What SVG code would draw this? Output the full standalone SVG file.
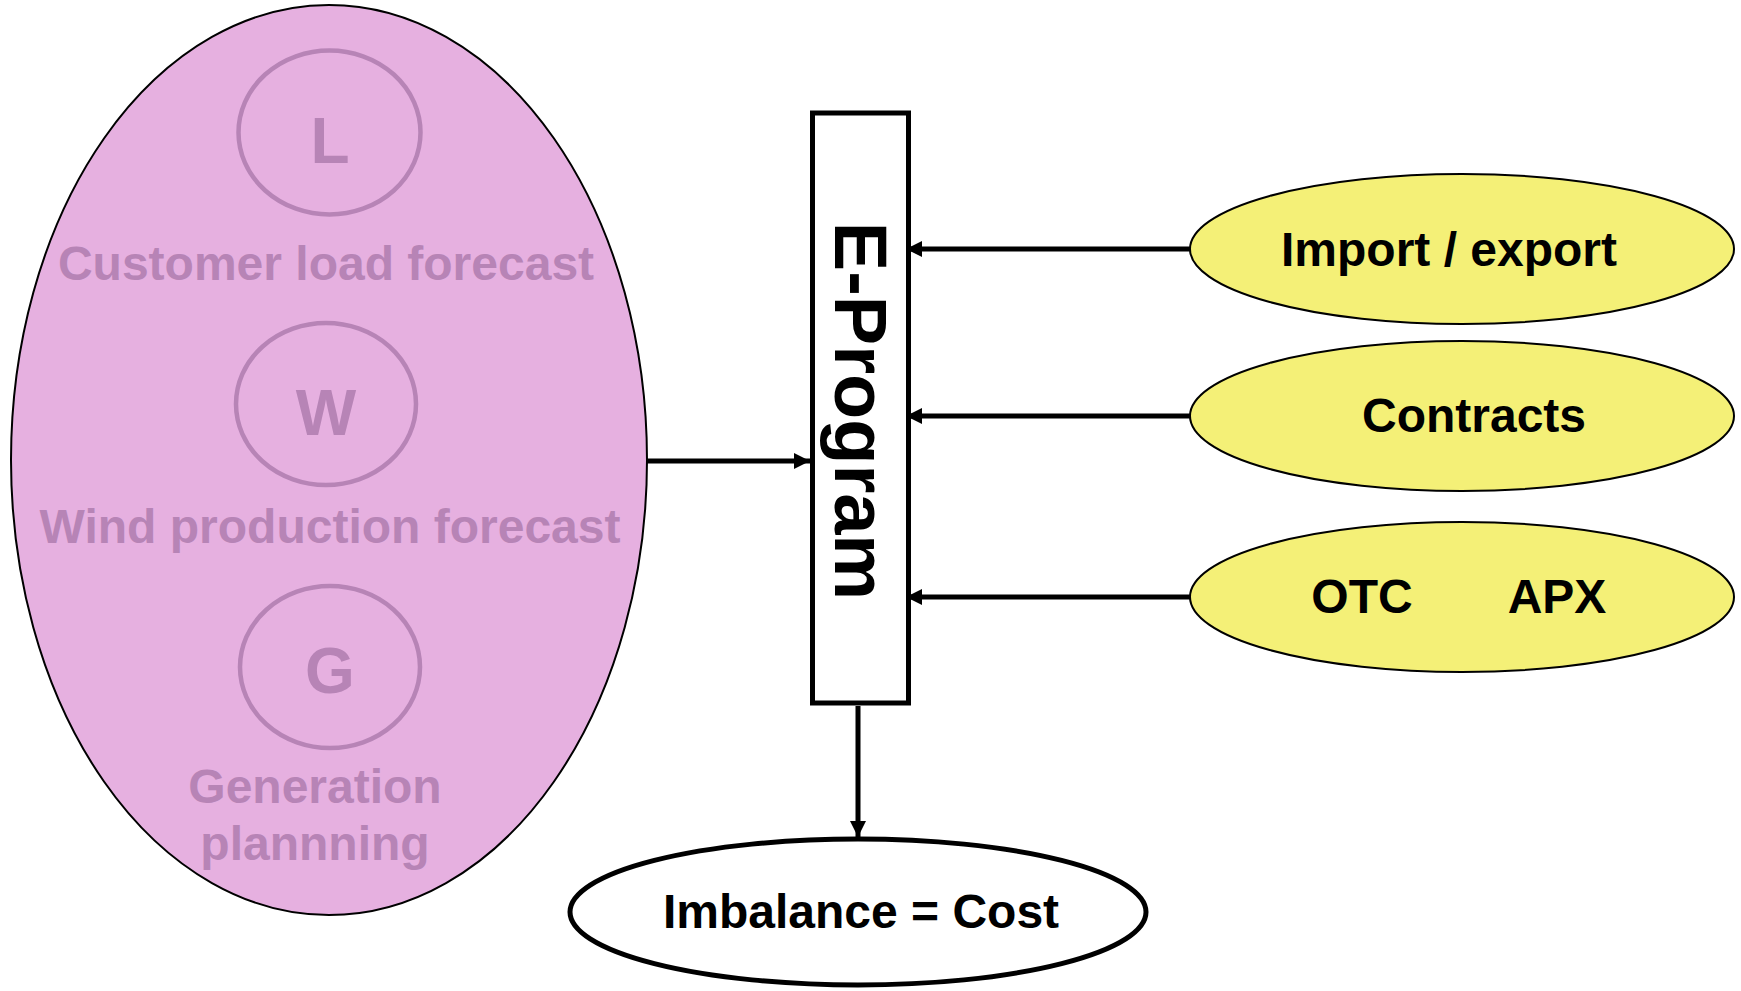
<svg xmlns="http://www.w3.org/2000/svg" width="1741" height="991" viewBox="0 0 1741 991">
<defs>
<style>
.bold{font-family:"Liberation Sans",Arial,sans-serif;font-weight:bold;text-anchor:middle}
.pinkt{fill:#b784b6;font-size:48px}
.big{font-size:64px}
.circ{fill:none;stroke:#b784b6;stroke-width:4.5}
.lbl{fill:#000;font-size:48px}
.yel{fill:#f4f077;stroke:#000;stroke-width:2}
.conn{stroke:#000;stroke-width:5;fill:none}
</style>
<marker id="ah" viewBox="0 0 16 16" refX="16" refY="8" markerWidth="16" markerHeight="16" markerUnits="userSpaceOnUse" orient="auto">
<path d="M0,0 L16,8 L0,16 Z" fill="#000"/>
</marker>
</defs>
<rect width="1741" height="991" fill="#fff"/>
<g id="pink-group">
<ellipse cx="329" cy="460" rx="318" ry="455" fill="#e6b0e0" stroke="#000" stroke-width="2"/>
<ellipse class="circ" cx="329.5" cy="132.5" rx="91" ry="82"/>
<text class="bold pinkt big" x="330" y="163">L</text>
<text class="bold pinkt" x="326" y="280">Customer load forecast</text>
<ellipse class="circ" cx="326" cy="404" rx="90" ry="81"/>
<text class="bold pinkt big" x="326" y="435">W</text>
<text class="bold pinkt" x="330" y="543">Wind production forecast</text>
<ellipse class="circ" cx="330" cy="667" rx="90" ry="81"/>
<text class="bold pinkt big" x="330" y="693">G</text>
<text class="bold pinkt" x="315" y="803">Generation</text>
<text class="bold pinkt" x="315" y="860">plannning</text>
</g>
<g id="eprogram">
<rect x="812.5" y="113" width="96" height="590" fill="#fff" stroke="#000" stroke-width="5"/>
<text class="bold lbl" transform="translate(835,411) rotate(90)" x="0" y="0" style="font-size:74px">E-Program</text>
</g>
<g id="import-export">
<ellipse class="yel" cx="1462" cy="249" rx="272" ry="75"/>
<text class="bold lbl" x="1449" y="266">Import / export</text>
</g>
<g id="contracts">
<ellipse class="yel" cx="1462" cy="416" rx="272" ry="75"/>
<text class="bold lbl" x="1474" y="432">Contracts</text>
</g>
<g id="otc-apx">
<ellipse class="yel" cx="1462" cy="597" rx="272" ry="75"/>
<text class="bold lbl" x="1362" y="613">OTC</text>
<text class="bold lbl" x="1557" y="613">APX</text>
</g>
<g id="imbalance">
<ellipse cx="858" cy="912" rx="288" ry="73" fill="#fff" stroke="#000" stroke-width="5"/>
<text class="bold lbl" x="861" y="928">Imbalance = Cost</text>
</g>
<g id="connectors">
<line class="conn" x1="647" y1="461" x2="810" y2="461" marker-end="url(#ah)"/>
<line class="conn" x1="1190" y1="249" x2="906" y2="249" marker-end="url(#ah)"/>
<line class="conn" x1="1190" y1="416" x2="906" y2="416" marker-end="url(#ah)"/>
<line class="conn" x1="1190" y1="597" x2="906" y2="597" marker-end="url(#ah)"/>
<line class="conn" x1="858" y1="706" x2="858" y2="837" marker-end="url(#ah)"/>
</g>
</svg>
